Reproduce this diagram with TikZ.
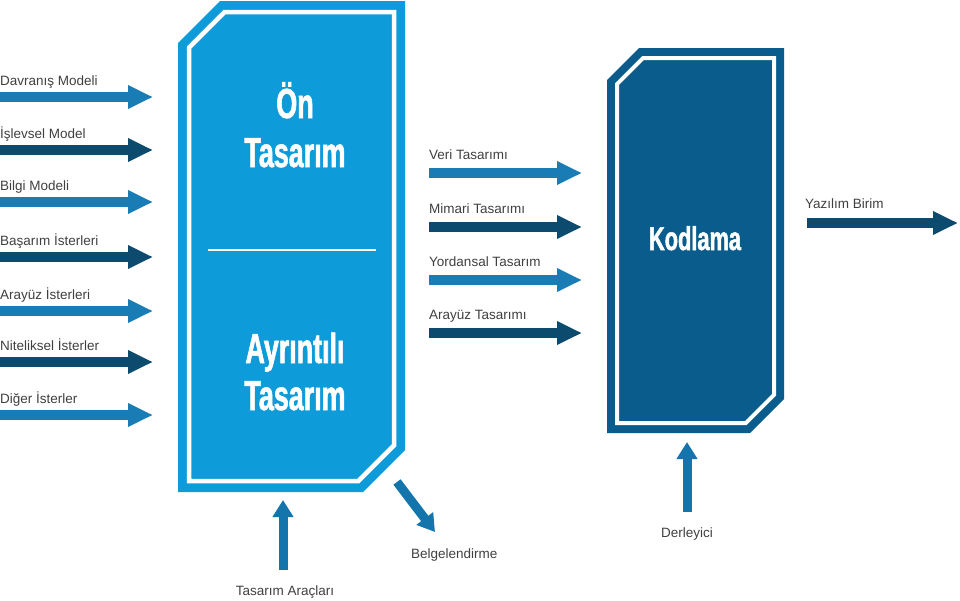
\documentclass[tikz,border=0pt]{standalone}
\usepackage{fontspec}
\setmainfont{Liberation Sans}
\newfontfamily\titlefont[FakeStretch=0.64,FakeBold=1.5]{Liberation Sans}
\newfontfamily\kodfont[FakeStretch=0.66,FakeBold=1.5]{Liberation Sans}
\usetikzlibrary{arrows.meta}
\definecolor{bigblue}{HTML}{0E9BDA}
\definecolor{kodblue}{HTML}{095C8C}
\definecolor{lightarr}{HTML}{1A7CB5}
\definecolor{darkarr}{HTML}{0C4A6E}
\definecolor{midarr}{HTML}{1475AC}
\definecolor{txt}{HTML}{404040}
\begin{document}
\begin{tikzpicture}[x=1pt,y=-1pt,
  lbl/.style={font=\fontsize{13.5}{16}\selectfont, text=txt, inner sep=0pt, anchor=base west},
  clbl/.style={lbl, anchor=base},
  harrow/.style={line width=10pt, -{Triangle[length=25pt,width=22pt]}},
  light/.style={harrow, draw=lightarr},
  dark/.style={harrow, draw=darkarr},
  varrow/.style={line width=9pt, draw=midarr, -{Triangle[length=17pt,width=20pt]}},
  title/.style={font=\titlefont\bfseries\fontsize{42}{48}\selectfont, text=white, anchor=base, inner sep=0pt},
  kod/.style={font=\kodfont\bfseries\fontsize{33}{40}\selectfont, text=white, anchor=base, inner sep=0pt},
  frameline/.style={white, line width=4.5pt, line join=miter}]
\useasboundingbox (0,0) rectangle (960,600);
\fill[white] (0,0) rectangle (960,600);

% big box
\fill[bigblue] (220,1) -- (405,1) -- (405,450) -- (363,492) -- (178,492) -- (178,43) -- cycle;
\draw[frameline] (224.6,12) -- (394,12) -- (394,445.4) -- (358.4,481) -- (189,481) -- (189,47.6) -- cycle;
\coordinate (divl) at (208,250);
\coordinate (divr) at (376,250);
\draw[white, line width=1.5pt] (divl) -- (divr);
\node[title] (on) at (295,118) {Ön};
\node[title] (tas1) at (295,167) {Tasarım};
\node[title] (ayr) at (295,363) {Ayrıntılı};
\node[title] (tas2) at (295,410) {Tasarım};

% kodlama box
\fill[kodblue] (639,48) -- (784,48) -- (784,399) -- (750,433) -- (607,433) -- (607,80) -- cycle;
\draw[frameline, line width=4pt] (643.1,58) -- (774,58) -- (774,394.9) -- (745.9,423) -- (617,423) -- (617,84.1) -- cycle;
\node[kod] (kodl) at (695,250) {Kodlama};

% left input arrows
\foreach \y/\t/\c [count=\i] in {97/Davranış Modeli/light, 150/İşlevsel Model/dark, 202/Bilgi Modeli/light, 257/Başarım İsterleri/dark, 311/Arayüz İsterleri/light, 362/Niteliksel İsterler/dark, 415/Diğer İsterler/light}{
  \node[lbl] (in\i) at (0,\y-12) {\t};
  \coordinate (ins\i) at (0,\y);
  \coordinate (ine\i) at (153,\y);
  \draw[\c] (ins\i) -- (ine\i);
}

% middle arrows
\foreach \y/\t/\c [count=\i] in {173/Veri Tasarımı/light, 227/Mimari Tasarımı/dark, 280/Yordansal Tasarım/light, 333/Arayüz Tasarımı/dark}{
  \node[lbl] (mid\i) at (429,\y-14) {\t};
  \coordinate (mids\i) at (429,\y);
  \coordinate (mide\i) at (582,\y);
  \draw[\c] (mids\i) -- (mide\i);
}

% output arrow
\node[lbl] (yaz) at (805,208) {Yazılım Birim};
\coordinate (yazs) at (807,223);
\coordinate (yaze) at (958,223);
\draw[dark] (yazs) -- (yaze);

% tasarim araclari
\node[clbl] (arac) at (285,595) {Tasarım Araçları};
\coordinate (aracs) at (283,570);
\coordinate (arace) at (283,500);
\draw[varrow] (aracs) -- (arace);

% belgelendirme
\node[lbl] (belge) at (411,558) {Belgelendirme};
\coordinate (belges) at (397,482);
\coordinate (belgee) at (435,532);
\draw[varrow] (belges) -- (belgee);

% derleyici
\node[clbl] (derl) at (687,537) {Derleyici};
\coordinate (derls) at (687,512);
\coordinate (derle) at (687,442);
\draw[varrow] (derls) -- (derle);
\end{tikzpicture}
\end{document}
